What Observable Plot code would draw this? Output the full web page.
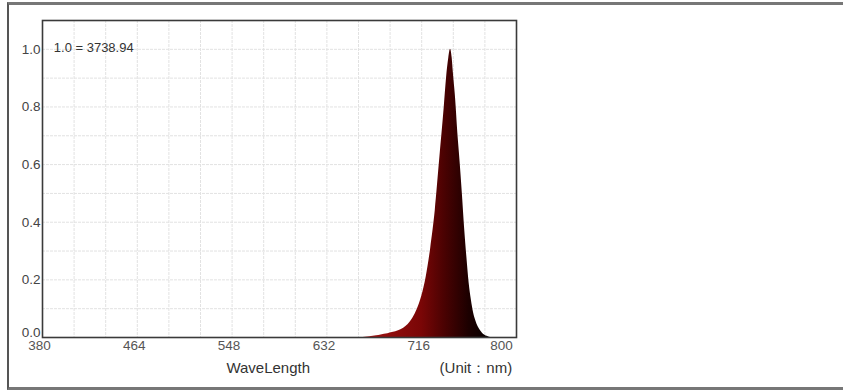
<!DOCTYPE html>
<html>
<head>
<meta charset="utf-8">
<script src="https://cdn.jsdelivr.net/npm/d3@7"></script>
<script src="https://cdn.jsdelivr.net/npm/@observablehq/plot@0.6"></script>
<style>
  html, body { margin: 0; padding: 0; background: #fff; overflow: hidden; }
  #wrap { position: relative; width: 843px; height: 392px; }
  #box { position: absolute; left: 7px; top: 2px; width: 900px; height: 382px;
         border-top: 3px solid #777; border-bottom: 3px solid #777; border-left: 2px solid #555; }
  #chart { position: absolute; left: 0; top: 0; }
</style>
</head>
<body>
<div id="wrap"><div id="box"></div><div id="chart"></div></div>
<script>
// Spectrum (wavelength nm, relative intensity)
const wavelength = [662, 666, 670, 676, 680, 686, 690, 696, 700, 704, 708, 712, 716, 720, 724, 728, 732, 736, 738, 740, 741.5, 743, 744, 746, 748, 750, 752, 754, 756, 758, 760, 762, 764, 766, 768, 770, 772, 774, 776, 778, 782];
const intensity  = [0, 0.001, 0.003, 0.006, 0.009, 0.013, 0.017, 0.024, 0.032, 0.045, 0.066, 0.097, 0.142, 0.21, 0.31, 0.44, 0.62, 0.8, 0.9, 0.97, 1.0, 0.97, 0.92, 0.83, 0.71, 0.61, 0.5, 0.38, 0.28, 0.19, 0.13, 0.085, 0.057, 0.037, 0.024, 0.014, 0.008, 0.004, 0.001, 0, 0];
const xTicks = [380, 464, 548, 632, 716];
const xLastTick = [800];
const yTicks = [0.2, 0.4, 0.6, 0.8, 1.0];
const yFirstTick = [0];
const xGrid = [408, 436, 464, 492, 520, 548, 576, 604, 632, 660, 688, 716, 744, 772];
const yGrid = [0.1, 0.2, 0.3, 0.4, 0.5, 0.6, 0.7, 0.8, 0.9, 1.0];
const scaleNote = "1.0 = 3738.94";
const xLabel = "WaveLength";
const unitLabel = "(Unit：nm)";

const data = wavelength.map((w, i) => ({w, v: intensity[i]}));

const gradientDefs = () => {
  const defs = d3.create("svg:defs");
  const g = defs.append("linearGradient").attr("id", "specfill")
    .attr("x1", "0").attr("x2", "1").attr("y1", "0").attr("y2", "0");
  [["0", "#a51414"], ["0.45", "#7a0606"], ["0.62", "#4a0202"], ["0.8", "#1c0000"], ["1", "#000000"]]
    .forEach(([o, c]) => g.append("stop").attr("offset", o).attr("stop-color", c));
  return defs.node();
};

const font = "'Liberation Sans', Arial, sans-serif";

const chart = Plot.plot({
  width: 843,
  height: 392,
  marginLeft: 42,
  marginRight: 327,
  marginTop: 20,
  marginBottom: 55,
  style: {fontFamily: font, fontSize: "13px", color: "#444", background: "transparent"},
  x: {domain: [380, 800]},
  y: {domain: [0, 1.1]},
  marks: [
    gradientDefs,
    Plot.ruleX(xGrid, {stroke: "#e2e2e2", strokeWidth: 1, strokeDasharray: "3,1"}),
    Plot.ruleY(yGrid, {stroke: "#e2e2e2", strokeWidth: 1, strokeDasharray: "3,1"}),
    Plot.areaY(data, {x: "w", y: "v", fill: "url(#specfill)", curve: "monotone-x"}),
    Plot.frame({stroke: "#3a3a3a", strokeWidth: 1.6}),
    Plot.axisY(yTicks, {tickSize: 0, tickPadding: 2, tickFormat: d3.format(".1f"), label: null, fill: "#444", fontSize: 13.5}),
    Plot.axisY(yFirstTick, {tickSize: 0, tickPadding: 2, dy: -5, tickFormat: d3.format(".1f"), label: null, fill: "#444", fontSize: 13.5}),
    Plot.axisX(xTicks, {tickSize: 0, tickPadding: 3, dx: -3, label: null, fill: "#555", fontSize: 13.5}),
    Plot.axisX(xLastTick, {tickSize: 0, tickPadding: 3, dx: -15, label: null, fill: "#555", fontSize: 13.5}),
    Plot.text([scaleNote], {x: 390, y: 1.0, dy: -1, text: d => d, textAnchor: "start", fill: "#333", fontSize: 13}),
    Plot.text([xLabel], {x: 580, y: -0.107, text: d => d, fill: "#333", fontSize: 15}),
    Plot.text([unitLabel], {x: 764, y: -0.107, text: d => d, fill: "#333", fontSize: 15})
  ]
});
document.getElementById("chart").appendChild(chart);
</script>
</body>
</html>
